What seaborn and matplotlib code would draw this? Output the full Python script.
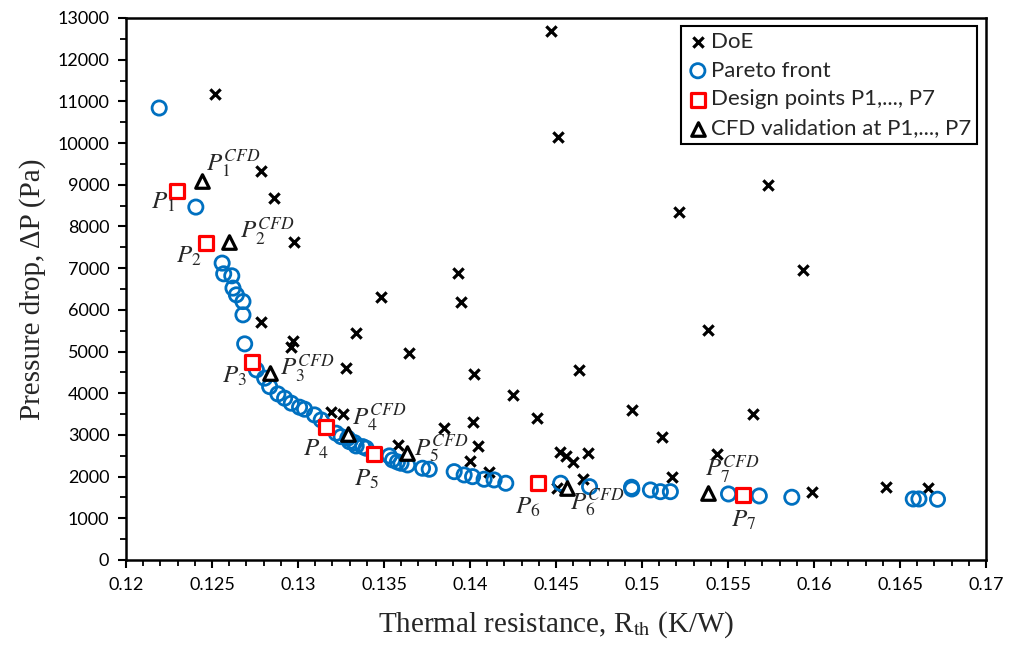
import numpy as np
import pandas as pd
import matplotlib
matplotlib.use("Agg")
import matplotlib.pyplot as plt
import seaborn as sns
from matplotlib.ticker import MultipleLocator

# ---------------- data ----------------
doe_rth = [0.1252, 0.12787, 0.12863, 0.12974, 0.13483, 0.13928, 0.13947, 0.13338,
           0.12787, 0.1297, 0.12961, 0.13643, 0.1328, 0.14024, 0.13193, 0.1326,
           0.1385, 0.14015, 0.14044, 0.13579, 0.1400, 0.14111, 0.14473, 0.14512,
           0.15217, 0.15731, 0.15934, 0.15382, 0.14636, 0.14252, 0.14392, 0.14939,
           0.15117, 0.15648, 0.15436, 0.15175, 0.14521, 0.14556, 0.14599, 0.14687,
           0.14657, 0.14508, 0.15987, 0.16416, 0.16664]
doe_dp = [11184, 9319, 8681, 7625, 6300, 6881, 6199, 5455,
          5719, 5263, 5105, 4961, 4601, 4457, 3547, 3492,
          3161, 3319, 2736, 2760, 2383, 2112, 12679, 10145,
          8345, 8983, 6960, 5520, 4558, 3960, 3401, 3600,
          2945, 3504, 2544, 1999, 2599, 2496, 2359, 2561,
          1937, 1721, 1639, 1759, 1721]

pareto_rth = [0.12193, 0.12406, 0.12559, 0.12568, 0.12615, 0.12622, 0.12642, 0.1268,
              0.1268, 0.1269, 0.12758, 0.12806, 0.12835, 0.12883, 0.12922, 0.12961,
              0.13009, 0.13038, 0.13096, 0.13135, 0.13222, 0.13251, 0.13289, 0.13299,
              0.13328, 0.13338, 0.13376, 0.13396, 0.13531, 0.1355, 0.13578, 0.13599,
              0.13637, 0.13724, 0.13763, 0.13908, 0.13966, 0.14015, 0.14082, 0.1414,
              0.14208, 0.14527, 0.14695, 0.14939, 0.14941, 0.15049, 0.15107, 0.15165,
              0.15503, 0.15682, 0.15871, 0.16577, 0.1661, 0.16718]
pareto_dp = [10841, 8465, 7121, 6864, 6816, 6521, 6360, 6199,
             5880, 5184, 4560, 4361, 4159, 3984, 3881, 3761,
             3665, 3617, 3480, 3360, 3041, 2959, 2921, 2839,
             2815, 2736, 2719, 2681, 2496, 2400, 2352, 2321,
             2280, 2201, 2177, 2119, 2040, 1999, 1937, 1920,
             1841, 1841, 1759, 1745, 1704, 1680, 1639, 1639,
             1584, 1536, 1505, 1464, 1464, 1457]

design_rth = [0.12298, 0.12464, 0.12735, 0.13164, 0.13443, 0.14397, 0.15585]
design_dp = [8839, 7615, 4759, 3180, 2544, 1841, 1560]

cfd_rth = [0.12443, 0.12599, 0.12837, 0.1329, 0.13632, 0.14562, 0.15383]
cfd_dp = [9079, 7625, 4488, 3031, 2561, 1721, 1601]

design_labels = [r"$P_{%d}$" % i for i in range(1, 8)]
cfd_labels = [r"$P_{%d}^{CFD}$" % i for i in range(1, 8)]
design_label_rth = [0.12215, 0.12365, 0.12632, 0.13102, 0.13398, 0.14338, 0.1559]
design_label_dp = [8568, 7272, 4416, 2664, 1944, 1272, 960]
cfd_label_rth = [0.12621, 0.12824, 0.13056, 0.13473, 0.13833, 0.14738, 0.15527]
cfd_label_dp = [9504, 7872, 4584, 3408, 2664, 1368, 2160]

# ---------------- style ----------------
sns.set_theme(style="ticks")
plt.rcParams["font.family"] = ["Lato", "DejaVu Sans"]
plt.rcParams["mathtext.fontset"] = "stix"

fig = plt.figure(figsize=(10.1, 6.5), dpi=100)
ax = fig.add_axes([126 / 1010, 1 - 560 / 650, (986 - 126) / 1010, (560 - 18) / 650])

doe = pd.DataFrame({"rth": doe_rth, "dp": doe_dp})
par = pd.DataFrame({"rth": pareto_rth, "dp": pareto_dp})
des = pd.DataFrame({"rth": design_rth, "dp": design_dp})
cfd = pd.DataFrame({"rth": cfd_rth, "dp": cfd_dp})

sns.scatterplot(data=doe, x="rth", y="dp", ax=ax, marker="x", color="black",
                s=55, linewidth=2.3, label="DoE", zorder=3)
sns.scatterplot(data=par, x="rth", y="dp", ax=ax, marker="o", facecolor="none",
                edgecolor="#0070C0", s=105, linewidth=2.0, label="Pareto front", zorder=4)
sns.scatterplot(data=des, x="rth", y="dp", ax=ax, marker="s", facecolor="white",
                edgecolor="#FF0000", s=115, linewidth=2.3,
                label="Design points P1,..., P7", zorder=5)
sns.scatterplot(data=cfd, x="rth", y="dp", ax=ax, marker="^", facecolor="white",
                edgecolor="black", s=95, linewidth=2.3,
                label="CFD validation at P1,..., P7", zorder=6)

for lab, xx, yy in zip(design_labels, design_label_rth, design_label_dp):
    ax.text(xx, yy, lab, fontsize=18, ha="center", va="center", zorder=7)
for lab, xx, yy in zip(cfd_labels, cfd_label_rth, cfd_label_dp):
    ax.text(xx, yy, lab, fontsize=18, ha="center", va="center", zorder=7)

ax.set_xlim(0.12, 0.17)
ax.set_ylim(0, 13000)
ax.xaxis.set_minor_locator(MultipleLocator(0.001))
ax.yaxis.set_major_locator(MultipleLocator(1000))
ax.yaxis.set_minor_locator(MultipleLocator(500))
ax.set_xticks(np.arange(0.12, 0.1701, 0.005))
ax.set_xticklabels(["0.12", "0.125", "0.13", "0.135", "0.14", "0.145", "0.15",
                    "0.155", "0.16", "0.165", "0.17"])
ax.tick_params(axis="both", which="major", direction="out", length=6, width=1.5,
               labelsize=13, color="black", labelcolor="black", pad=6)
ax.tick_params(axis="both", which="minor", direction="out", length=4, width=1.3,
               color="black")
for sp in ax.spines.values():
    sp.set_visible(True)
    sp.set_color("black")
    sp.set_linewidth(1.8)

ax.set_xlabel(r"Thermal resistance, R$_{\mathrm{th}}$ (K/W)",
              family=["Liberation Serif"], fontsize=21, labelpad=12)
ax.set_ylabel("Pressure drop, ΔP (Pa)", family=["Liberation Serif"], fontsize=21,
              labelpad=8)

leg = ax.legend(loc="upper right", bbox_to_anchor=(0.9895, 0.985), frameon=True,
                fancybox=False, edgecolor="black", framealpha=1, fontsize=16,
                handletextpad=0.1, handlelength=1.0, borderpad=0.25,
                labelspacing=0.4, borderaxespad=0)
leg.get_frame().set_linewidth(1.5)

fig.savefig("out.png", dpi=100)
